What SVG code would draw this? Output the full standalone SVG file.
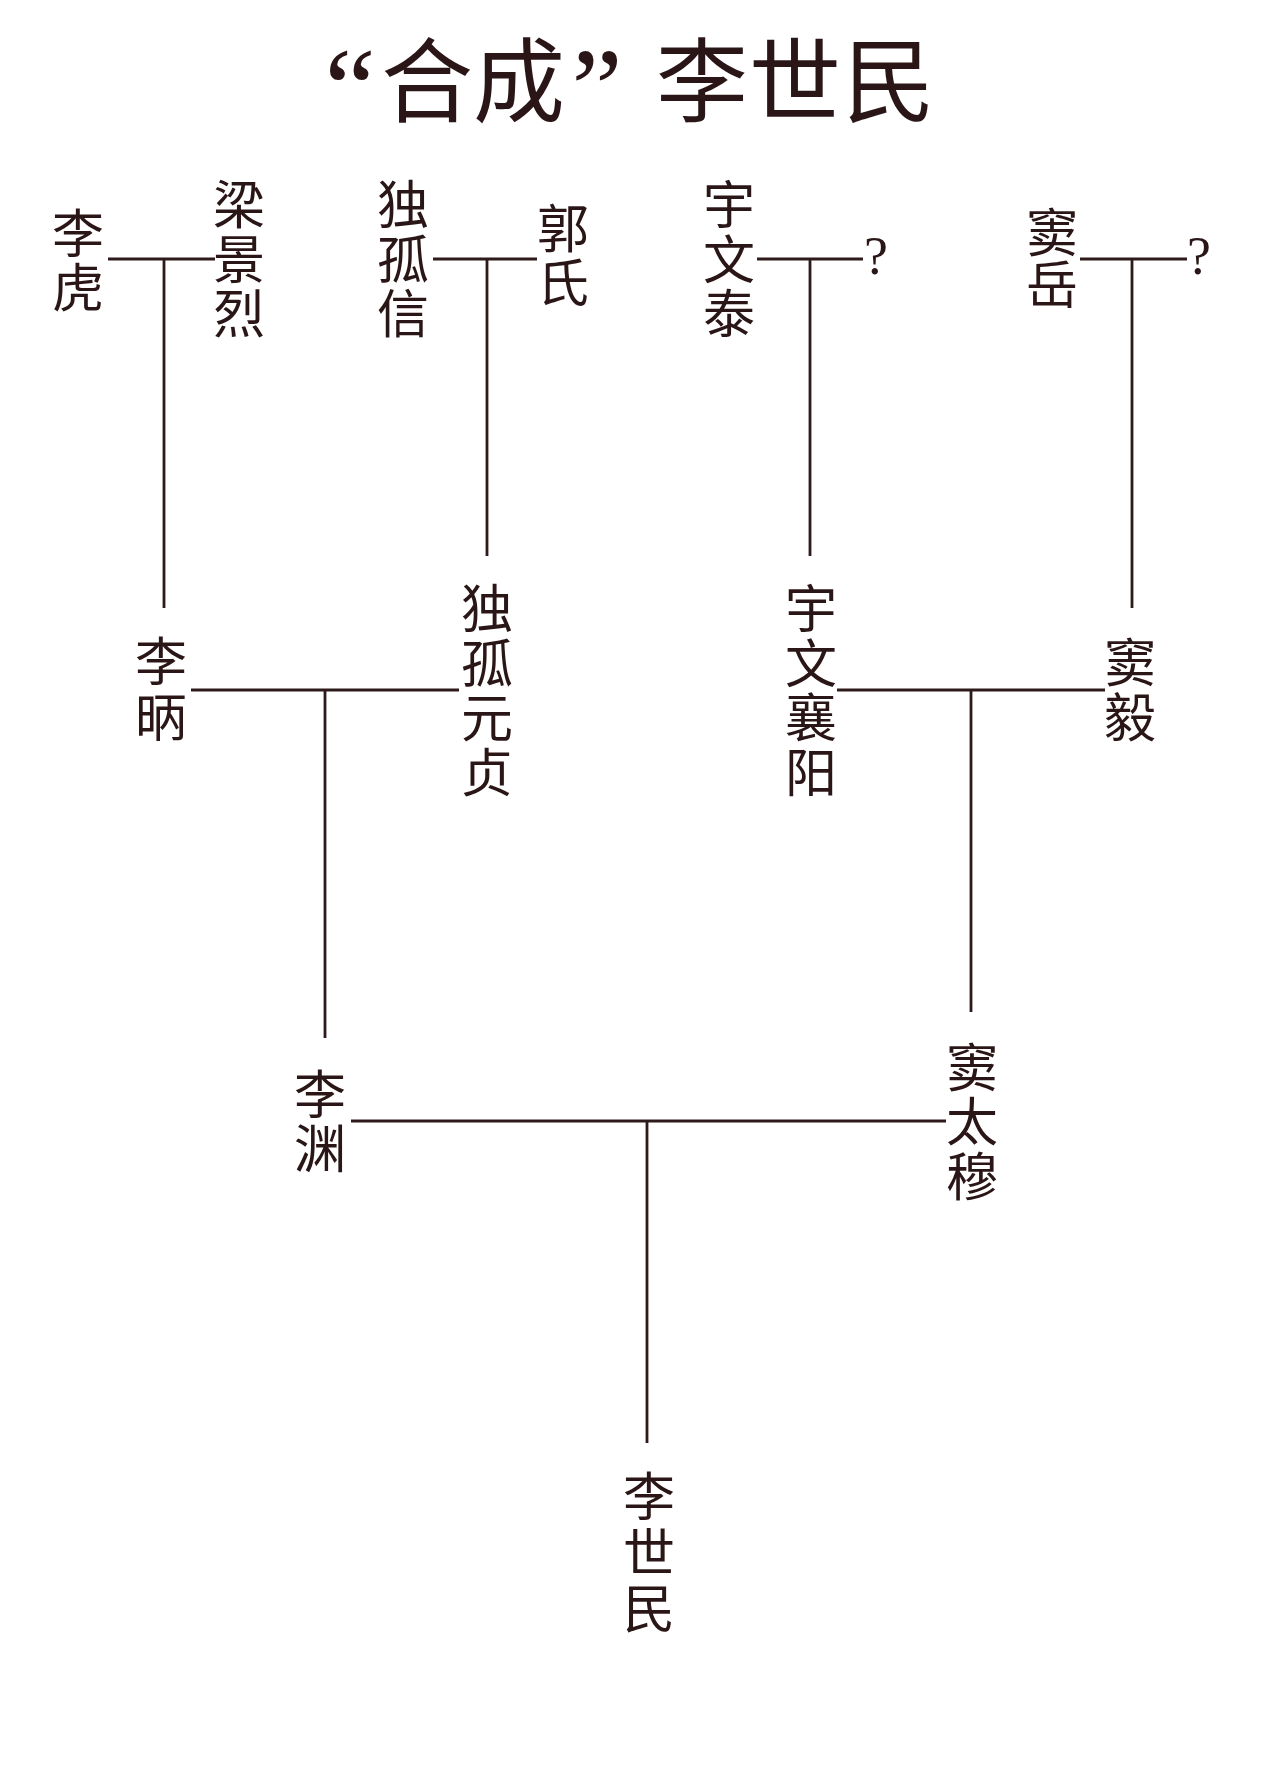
<svg xmlns="http://www.w3.org/2000/svg" width="1280" height="1789" viewBox="0 0 1280 1789">
<style>
.n{font-family:"Noto Sans CJK SC","Noto Sans CJK TC",sans-serif;font-size:52px;fill:#2a1616;text-anchor:middle}
.t{font-family:"Noto Sans CJK SC",sans-serif;font-size:92px;fill:#2a1616;text-anchor:middle}
.q{font-family:"Liberation Serif",serif;fill:#2a1616;text-anchor:middle}
.c line{stroke:#2e1a1a;stroke-width:2.8}
</style>
<rect width="1280" height="1789" fill="#ffffff"/>
<g id="title">
<text class="q" font-size="115" x="350" y="127">“</text>
<text class="t" x="427" y="115">合</text>
<text class="t" x="519" y="115">成</text>
<text class="q" font-size="115" x="597" y="127">”</text>
<text class="t" x="702" y="115">李</text>
<text class="t" x="795" y="115">世</text>
<text class="t" x="889" y="115">民</text>
</g>
<g class="c" id="connectors">
<line x1="108" y1="259" x2="215" y2="259"/>
<line x1="164" y1="259" x2="164" y2="608"/>
<line x1="433" y1="259" x2="537" y2="259"/>
<line x1="487" y1="259" x2="487" y2="556"/>
<line x1="757" y1="259" x2="863" y2="259"/>
<line x1="810" y1="259" x2="810" y2="556"/>
<line x1="1080" y1="259" x2="1187" y2="259"/>
<line x1="1132" y1="259" x2="1132" y2="608"/>
<line x1="191" y1="690" x2="459" y2="690"/>
<line x1="325" y1="690" x2="325" y2="1038"/>
<line x1="837" y1="690" x2="1105" y2="690"/>
<line x1="971" y1="690" x2="971" y2="1012"/>
<line x1="351" y1="1121" x2="946" y2="1121"/>
<line x1="647" y1="1121" x2="647" y2="1443"/>
</g>
<g id="lihu"><text class="n"><tspan x="78" y="252.5">李</tspan><tspan x="78" y="306.5">虎</tspan></text></g>
<g id="liangjinglie"><text class="n"><tspan x="239" y="224">梁</tspan><tspan x="239" y="278.5">景</tspan><tspan x="239" y="333">烈</tspan></text></g>
<g id="duguxin"><text class="n"><tspan x="403" y="224">独</tspan><tspan x="403" y="278.5">孤</tspan><tspan x="403" y="333">信</tspan></text></g>
<g id="guoshi"><text class="n"><tspan x="563" y="247.5">郭</tspan><tspan x="563" y="302">氏</tspan></text></g>
<g id="yuwentai"><text class="n"><tspan x="729" y="224">宇</tspan><tspan x="729" y="278.5">文</tspan><tspan x="729" y="333">泰</tspan></text></g>
<g id="q1"><text class="q" font-size="54" x="876" y="274">?</text></g>
<g id="douyue"><text class="n"><tspan x="1052" y="251.5">窦</tspan><tspan x="1052" y="304">岳</tspan></text></g>
<g id="q2"><text class="q" font-size="54" x="1199" y="274">?</text></g>
<g id="libing"><text class="n"><tspan x="161" y="681">李</tspan><tspan x="161" y="737">昞</tspan></text></g>
<g id="duguyuanzhen"><text class="n"><tspan x="487" y="628">独</tspan><tspan x="487" y="682.5">孤</tspan><tspan x="487" y="737">元</tspan><tspan x="487" y="791.5">贞</tspan></text></g>
<g id="yuwenxiangyang"><text class="n"><tspan x="811" y="628">宇</tspan><tspan x="811" y="682.5">文</tspan><tspan x="811" y="737">襄</tspan><tspan x="811" y="791.5">阳</tspan></text></g>
<g id="douyi"><text class="n"><tspan x="1130" y="681.5">窦</tspan><tspan x="1130" y="737">毅</tspan></text></g>
<g id="liyuan"><text class="n"><tspan x="320" y="1114">李</tspan><tspan x="320" y="1168">渊</tspan></text></g>
<g id="doutaimu"><text class="n"><tspan x="972" y="1087">窦</tspan><tspan x="972" y="1141">太</tspan><tspan x="972" y="1196">穆</tspan></text></g>
<g id="lishimin"><text class="n"><tspan x="649" y="1516">李</tspan><tspan x="649" y="1572">世</tspan><tspan x="649" y="1628">民</tspan></text></g>
</svg>
